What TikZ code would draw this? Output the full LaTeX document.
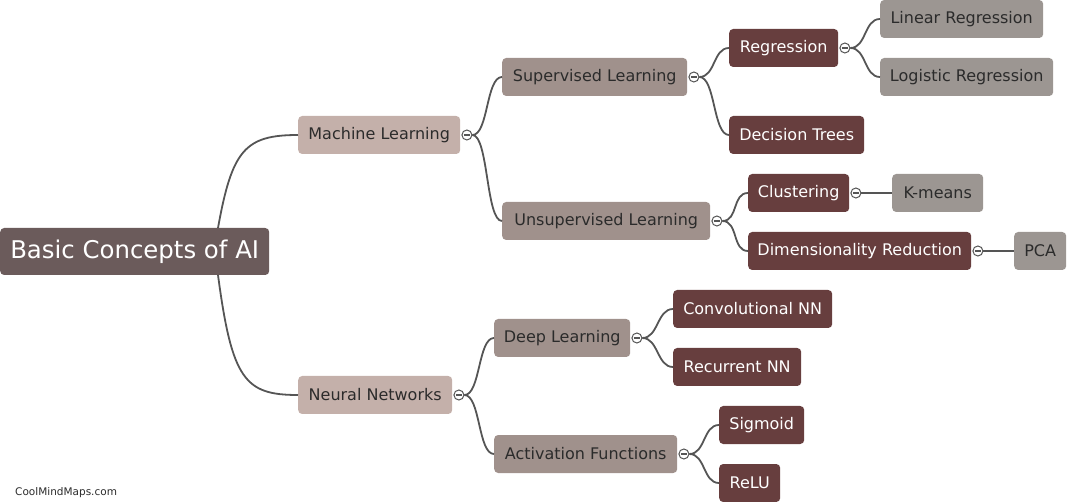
\documentclass[tikz,border=0pt]{standalone}
\usepackage{fontspec}
\setmainfont{DejaVu Sans}
\usetikzlibrary{positioning}

\definecolor{rootfill}{HTML}{6B5B5B}
\definecolor{onefill}{HTML}{C4B0AA}
\definecolor{twofill}{HTML}{A0918C}
\definecolor{darkfill}{HTML}{673E3E}
\definecolor{leaffill}{HTML}{9C9692}
\definecolor{linkgray}{HTML}{555555}
\definecolor{textdark}{HTML}{2B2B2B}

\tikzset{
  box/.style={rounded corners=4pt, anchor=west, minimum height=38pt,
              inner sep=0pt, font=\fontsize{16}{19}\selectfont},
  rootbox/.style={box, fill=rootfill, text=white, minimum height=47pt,
                  font=\fontsize{24.4}{29}\selectfont},
  onebox/.style={box, fill=onefill, text=textdark},
  twobox/.style={box, fill=twofill, text=textdark},
  darkbox/.style={box, fill=darkfill, text=white},
  leafbox/.style={box, fill=leaffill, text=textdark},
  toggle/.style={circle, draw=linkgray, fill=white, line width=1pt,
                 minimum size=10pt, inner sep=0pt,
                 path picture={\draw[linkgray, line width=1.3pt]
                   ([xshift=-3pt]path picture bounding box.center) --
                   ([xshift=3pt]path picture bounding box.center);}},
  link/.style={draw=linkgray, line width=1.8pt},
}

\begin{document}
\begin{tikzpicture}[x=1pt, y=-1pt]
  \useasboundingbox (0,0) rectangle (1079,502);

  % root
  \node[rootbox, minimum width=269pt] (root) at (0,251.5) {Basic Concepts of AI};
  \coordinate (root-up) at (218,228);
  \coordinate (root-down) at (218,275);

  % first level
  \node[onebox, minimum width=162pt] (ml) at (298,135) {Machine Learning};
  \node[onebox, minimum width=154pt] (nn) at (298,395) {Neural Networks};

  % second level
  \node[twobox, minimum width=185pt] (sl) at (502,77) {Supervised Learning};
  \node[twobox, minimum width=208pt] (ul) at (502,221) {Unsupervised Learning};
  \node[twobox, minimum width=136pt] (dl) at (494,338) {Deep Learning};
  \node[twobox, minimum width=183pt] (af) at (494,454) {Activation Functions};

  % third level
  \node[darkbox, minimum width=109pt] (reg) at (729,48) {Regression};
  \node[darkbox, minimum width=135pt] (dt) at (729,135) {Decision Trees};
  \node[darkbox, minimum width=101pt] (clu) at (748,193) {Clustering};
  \node[darkbox, minimum width=223pt] (dr) at (748,251) {Dimensionality Reduction};
  \node[darkbox, minimum width=159pt] (cnn) at (673,309) {Convolutional NN};
  \node[darkbox, minimum width=128pt] (rnn) at (673,367) {Recurrent NN};
  \node[darkbox, minimum width=85pt] (sig) at (719,425) {Sigmoid};
  \node[darkbox, minimum width=61pt] (relu) at (719,483) {ReLU};

  % leaves
  \node[leafbox, minimum width=163pt] (lin) at (880,19) {Linear Regression};
  \node[leafbox, minimum width=173pt] (log) at (880,77) {Logistic Regression};
  \node[leafbox, minimum width=91pt] (km) at (892,193) {K-means};
  \node[leafbox, minimum width=52pt] (pca) at (1014,251) {PCA};

  % collapse toggles
  \node[toggle, right=1pt of ml] (t-ml) {};
  \node[toggle, right=1pt of nn] (t-nn) {};
  \node[toggle, right=1pt of sl] (t-sl) {};
  \node[toggle, right=1pt of ul] (t-ul) {};
  \node[toggle, right=1pt of dl] (t-dl) {};
  \node[toggle, right=1pt of af] (t-af) {};
  \node[toggle, right=1pt of reg] (t-reg) {};
  \node[toggle, right=1pt of clu] (t-clu) {};
  \node[toggle, right=1pt of dr] (t-dr) {};

  % connectors
  \draw[link] (root-up) .. controls (232,150) and (245,135) .. (ml.west);
  \draw[link] (root-down) .. controls (232,380) and (245,395) .. (nn.west);

  \foreach \from/\to in {ml/sl, ml/ul, nn/dl, nn/af, sl/reg, sl/dt,
                         ul/clu, ul/dr, dl/cnn, dl/rnn, af/sig, af/relu,
                         reg/lin, reg/log, clu/km, dr/pca}
    \draw[link] (t-\from.east) .. controls +(16,0) and +(-16,0) .. (\to.west);

  % footer
  \node[anchor=west, inner sep=0pt, text=textdark,
        font=\fontsize{10.5}{12}\selectfont] (brand) at (15,493) {CoolMindMaps.com};
\end{tikzpicture}
\end{document}
